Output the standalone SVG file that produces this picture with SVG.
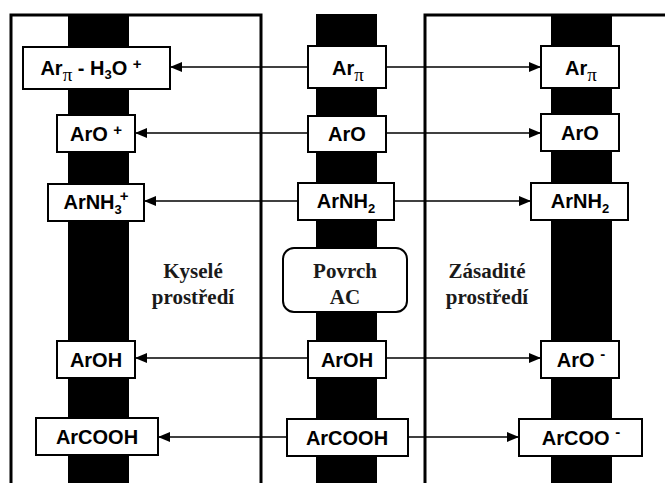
<svg xmlns="http://www.w3.org/2000/svg" width="665" height="483" viewBox="0 0 665 483">
<defs>
<style>
.box{fill:#fff;stroke:#000;stroke-width:2}
.bar{fill:#000}
.frame{fill:none;stroke:#000;stroke-width:3}
.t{font-family:"Liberation Sans",Arial,sans-serif;font-weight:bold;font-size:20px;fill:#000;text-anchor:middle}
.pi{font-family:"Liberation Serif","DejaVu Serif",serif;font-weight:normal;font-size:19px}
.sub{font-size:13px}
.sup{font-size:15px}
.lab{font-family:"Liberation Serif","Times New Roman",serif;font-weight:bold;font-size:21px;fill:#1a1a1a;text-anchor:middle}
.con{stroke:#000;stroke-width:1.5;fill:none;marker-end:url(#ah)}
</style>
<marker id="ah" markerUnits="userSpaceOnUse" markerWidth="12" markerHeight="10" refX="12" refY="5" orient="auto">
<path d="M0,0 L12,5 L0,10 Z" fill="#000"/>
</marker>
</defs>
<g id="background">
<rect class="bar" x="68" y="14" width="61" height="469"/>
<rect class="bar" x="316" y="14" width="61" height="469"/>
<rect class="bar" x="551" y="14" width="61" height="469"/>
<path class="frame" d="M11,483 V15 H261 V483"/>
<path class="frame" d="M425,483 V15 H665"/>
</g>
<g id="connectors">
<line class="con" x1="308" y1="67" x2="170" y2="67"/>
<line class="con" x1="386" y1="67" x2="541" y2="67"/>
<line class="con" x1="308" y1="133" x2="135" y2="133"/>
<line class="con" x1="386" y1="133" x2="541" y2="133"/>
<line class="con" x1="298" y1="201" x2="144" y2="201"/>
<line class="con" x1="394" y1="201" x2="531" y2="201"/>
<line class="con" x1="308" y1="358" x2="135" y2="358"/>
<line class="con" x1="386" y1="358" x2="541" y2="358"/>
<line class="con" x1="287" y1="437" x2="158" y2="437"/>
<line class="con" x1="408" y1="437" x2="519" y2="437"/>
</g>
<g id="left-arpi">
<rect class="box" x="23" y="47" width="147" height="42"/>
<text class="t" x="91" y="75">Ar<tspan class="pi" dy="6">π</tspan><tspan dy="-6"> - H</tspan><tspan class="sub" dy="4">3</tspan><tspan dy="-4">O </tspan><tspan class="sup" dy="-6">+</tspan></text>
</g>
<g id="left-aro">
<rect class="box" x="57" y="115" width="78" height="37"/>
<text class="t" x="96" y="141">ArO <tspan class="sup" dy="-6">+</tspan></text>
</g>
<g id="left-arnh3">
<rect class="box" x="48" y="184" width="96" height="37"/>
<text class="t" x="96" y="209">ArNH<tspan class="sub" dy="5">3</tspan><tspan class="sup" dx="-2" dy="-13">+</tspan></text>
</g>
<g id="left-aroh">
<rect class="box" x="57" y="341" width="78" height="37"/>
<text class="t" x="96" y="367">ArOH</text>
</g>
<g id="left-arcooh">
<rect class="box" x="36" y="418" width="122" height="37"/>
<text class="t" x="97" y="444">ArCOOH</text>
</g>
<g id="mid-arpi">
<rect class="box" x="308" y="46" width="78" height="42"/>
<text class="t" x="348" y="75">Ar<tspan class="pi" dy="6">π</tspan></text>
</g>
<g id="mid-aro">
<rect class="box" x="308" y="116" width="78" height="36"/>
<text class="t" x="347" y="141">ArO</text>
</g>
<g id="mid-arnh2">
<rect class="box" x="298" y="183" width="96" height="37"/>
<text class="t" x="346" y="208">ArNH<tspan class="sub" dy="5">2</tspan></text>
</g>
<g id="mid-povrch">
<rect class="box" x="283" y="248" width="124" height="64" rx="11"/>
<text class="lab" x="345" y="278">Povrch</text>
<text class="lab" x="345" y="304">AC</text>
</g>
<g id="mid-aroh">
<rect class="box" x="308" y="341" width="78" height="37"/>
<text class="t" x="347" y="367">ArOH</text>
</g>
<g id="mid-arcooh">
<rect class="box" x="287" y="419" width="121" height="37"/>
<text class="t" x="347" y="445">ArCOOH</text>
</g>
<g id="right-arpi">
<rect class="box" x="541" y="46" width="78" height="42"/>
<text class="t" x="581" y="75">Ar<tspan class="pi" dy="6">π</tspan></text>
</g>
<g id="right-aro">
<rect class="box" x="541" y="114" width="78" height="37"/>
<text class="t" x="580" y="140">ArO</text>
</g>
<g id="right-arnh2">
<rect class="box" x="531" y="183" width="97" height="37"/>
<text class="t" x="580" y="208">ArNH<tspan class="sub" dy="5">2</tspan></text>
</g>
<g id="right-aro-minus">
<rect class="box" x="541" y="341" width="78" height="37"/>
<text class="t" x="581" y="367">ArO <tspan class="sup" dy="-8">-</tspan></text>
</g>
<g id="right-arcoo-minus">
<rect class="box" x="519" y="419" width="123" height="37"/>
<text class="t" x="581" y="445">ArCOO <tspan class="sup" dy="-8">-</tspan></text>
</g>
<g id="labels">
<text class="lab" x="193" y="278">Kyselé</text>
<text class="lab" x="193" y="304">prostředí</text>
<text class="lab" x="487" y="278">Zásadité</text>
<text class="lab" x="487" y="304">prostředí</text>
</g>
</svg>
